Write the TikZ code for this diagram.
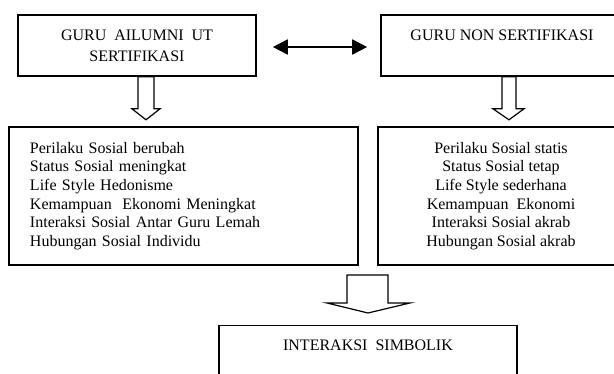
\documentclass[tikz,border=0pt]{standalone}
\usepackage{fontspec}
\setmainfont{Liberation Serif}
\usetikzlibrary{arrows.meta,calc}

\begin{document}
\begin{tikzpicture}[x=1pt,y=-1pt,
  box/.style={draw,line width=1.6pt,inner sep=0pt,font=\fontsize{16}{21}\selectfont},
  hollow/.style={draw,line width=1.2pt,line join=miter},
  dbl/.style={{Triangle[length=15pt,width=15pt]}-{Triangle[length=15pt,width=15pt]},line width=1.6pt}]
\useasboundingbox (0,0) rectangle (614,374);
\clip (0,0) rectangle (614,374);
% top row
\node[box,minimum width=238,minimum height=61,align=center] (guruUT) at (137,45.5) {GURU\ \ AILUMNI\ \ UT\\SERTIFIKASI};
\node[box,minimum width=242,minimum height=61,align=center] (guruNon) at (502,45.5) {GURU NON SERTIFIKASI\\\mbox{}};
\draw[dbl] ([xshift=16,yshift=-1.5]guruUT.east) -- ([xshift=-13,yshift=-1.5]guruNon.west);
% middle row
\node[box,font=\fontsize{16}{18.6}\selectfont,minimum height=138,inner xsep=21,text width=307,align=left] (ciriUT) at (183.5,196) {Perilaku Sosial berubah\\Status Sosial meningkat\\Life Style Hedonisme\\Kemampuan\ \ Ekonomi Meningkat\\Interaksi Sosial Antar Guru Lemah\\Hubungan Sosial Individu};
\node[box,font=\fontsize{16}{18.6}\selectfont,minimum width=246,minimum height=138,align=center] (ciriNon) at (501,196) {Perilaku Sosial statis\\Status Sosial tetap\\Life Style sederhana\\Kemampuan\ \ Ekonomi\\Interaksi Sosial akrab\\Hubungan Sosial akrab};
\draw[hollow] ($(guruUT.south)+(1,0)$) -- ++(0,32) -- ++(-6,0) -- ++(14,11) -- ++(14,-11) -- ++(-6,0) -- ++(0,-32) -- cycle;
\draw[hollow] (guruNon.south) -- ++(0,32) -- ++(-9,0) -- ++(16,11) -- ++(15,-11) -- ++(-8,0) -- ++(0,-32) -- cycle;
% bottom
\node[box,line width=1.3pt,minimum width=298,inner ysep=14,text depth=50,anchor=north] (interaksi) at (368,325) {INTERAKSI\ \ SIMBOLIK};
\draw[hollow] ($(interaksi.north)+(-21,-50)$) -- ++(0,28) -- ++(-20,0) -- ++(41,10) -- ++(42,-10) -- ++(-22,0) -- ++(0,-28) -- cycle;
\end{tikzpicture}
\end{document}
